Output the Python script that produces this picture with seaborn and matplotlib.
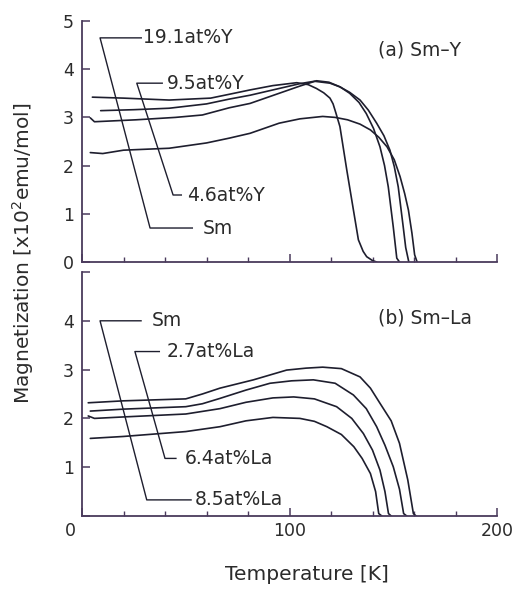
import matplotlib
matplotlib.use("Agg")
import matplotlib.pyplot as plt
import matplotlib.transforms as mtransforms
from matplotlib.ticker import MultipleLocator, FixedLocator
import seaborn as sns
import numpy as np
import pandas as pd

# ---------------- data ----------------
# (a) Sm-Y
y_sm_T = [4, 10, 20, 42, 60, 71, 81, 95, 105, 116, 122, 128, 134, 139, 143, 147, 150.5, 153.3, 155.5, 157.3, 159, 160.3, 161.5]
y_sm_M = [2.27, 2.25, 2.32, 2.36, 2.47, 2.57, 2.67, 2.88, 2.97, 3.02, 3.0, 2.95, 2.86, 2.74, 2.59, 2.39, 2.12, 1.77, 1.42, 1.08, 0.6, 0.15, 0.0]

y46_T = [4, 6, 26, 45, 58, 71, 81, 95, 105, 113, 119, 124, 129, 134, 138, 142, 145.5, 148.4, 150.5, 152.4, 154.8, 156, 157.5]
y46_M = [2.99, 2.91, 2.95, 3.0, 3.05, 3.2, 3.29, 3.5, 3.65, 3.76, 3.73, 3.64, 3.52, 3.36, 3.15, 2.88, 2.62, 2.32, 1.98, 1.56, 0.73, 0.3, 0.0]

y95_T = [9, 25, 42, 60, 71, 81, 95, 105, 112, 119.5, 124.5, 129, 133.5, 137, 140.5, 143.6, 145.8, 147.6, 150, 151.7, 153]
y95_M = [3.14, 3.16, 3.19, 3.28, 3.38, 3.46, 3.6, 3.7, 3.75, 3.71, 3.63, 3.5, 3.31, 3.08, 2.77, 2.39, 2.0, 1.56, 0.73, 0.08, 0.0]

y191_T = [5, 20, 42, 62, 71, 81, 92, 103.5, 109, 113, 116.5, 119.5, 121, 122.3, 124.3, 127.6, 130.8, 133.2, 135.5, 137.2, 140, 142]
y191_M = [3.42, 3.40, 3.36, 3.40, 3.48, 3.57, 3.66, 3.72, 3.68, 3.60, 3.51, 3.40, 3.28, 3.1, 2.81, 1.91, 1.08, 0.46, 0.22, 0.11, 0.03, 0.0]

# (b) Sm-La
la_sm_T = [3, 20, 50, 58, 66.5, 82.6, 98.6, 108, 116, 125, 134, 139, 143.6, 149, 153, 157, 159.7, 161]
la_sm_M = [2.32, 2.36, 2.40, 2.5, 2.62, 2.79, 2.99, 3.03, 3.05, 3.02, 2.85, 2.62, 2.31, 1.95, 1.49, 0.74, 0.05, 0.0]

la27_T = [4, 20, 50, 58, 66.5, 79, 90.6, 101, 111.5, 122, 130.8, 137, 142, 146, 150, 153, 155, 156.5]
la27_M = [2.15, 2.19, 2.24, 2.3, 2.41, 2.58, 2.72, 2.77, 2.79, 2.72, 2.48, 2.2, 1.83, 1.45, 1.01, 0.55, 0.05, 0.0]

la64_T = [3, 6, 20, 50, 66.5, 79, 92, 102, 112, 122.7, 130, 135.6, 140, 143.6, 146, 147.7, 149]
la64_M = [2.05, 2.0, 2.03, 2.09, 2.2, 2.33, 2.42, 2.44, 2.4, 2.24, 2.0, 1.69, 1.35, 0.94, 0.5, 0.05, 0.0]

la85_T = [4, 20, 50, 66.5, 79, 92, 105, 112, 118, 125, 131, 135, 139, 141.5, 143, 144.5]
la85_M = [1.59, 1.63, 1.73, 1.83, 1.95, 2.02, 2.0, 1.94, 1.83, 1.67, 1.42, 1.18, 0.87, 0.5, 0.05, 0.0]

x_ticks = [0, 100, 200]
x_ticklabels = ["0", "100", "200"]
y_ticks = [0, 1, 2, 3, 4, 5]
y_ticklabels_a = ["0", "1", "2", "3", "4", "5"]
y_ticklabels_b = ["", "1", "2", "3", "4", ""]

# ---------------- style ----------------
sns.set_theme(style="white")
plt.rcParams['font.family'] = ['DejaVu Sans']
LINE = "#1e1e2e"
SPINE = "#4a3a5c"
TEXT = "#2b2b2b"
FS_TICK = 12.5
FS_ANN = 13.5
FS_LAB = 14.5

W, H = 517, 589
fig = plt.figure(figsize=(W / 100, H / 100), dpi=100)
ax1 = fig.add_axes([82 / W, 1 - 262 / H, 415 / W, 241 / H])
ax2 = fig.add_axes([82 / W, 1 - 516 / H, 415 / W, 244 / H])


def draw(ax, T, M):
    sns.lineplot(x=T, y=M, ax=ax, color=LINE, lw=1.2, sort=False, estimator=None)


for T, M in [(y_sm_T, y_sm_M), (y46_T, y46_M), (y95_T, y95_M), (y191_T, y191_M)]:
    draw(ax1, T, M)
for T, M in [(la_sm_T, la_sm_M), (la27_T, la27_M), (la64_T, la64_M), (la85_T, la85_M)]:
    draw(ax2, T, M)

for ax in (ax1, ax2):
    ax.set_xlim(0, 200)
    ax.set_ylim(0, 5)
    ax.set_xlabel("")
    ax.set_ylabel("")
    for s in ("top", "right"):
        ax.spines[s].set_visible(False)
    for s in ("left", "bottom"):
        ax.spines[s].set_color(SPINE)
        ax.spines[s].set_linewidth(1.3)
    ax.xaxis.set_major_locator(FixedLocator(x_ticks))
    ax.xaxis.set_minor_locator(MultipleLocator(20))
    ax.yaxis.set_major_locator(FixedLocator(y_ticks))
    ax.tick_params(axis="both", which="both", bottom=True, left=True, top=False, right=False)
    ax.tick_params(axis="both", which="major", direction="in", length=6, width=1.1,
                   color=SPINE, labelsize=FS_TICK, labelcolor=TEXT)
    ax.tick_params(axis="x", which="minor", direction="in", length=3.5, width=1.0, color=SPINE)
    ax.tick_params(axis="y", which="major", pad=6)
    ax.tick_params(axis="x", which="major", pad=4)
    ax.set_facecolor("white")

ax1.set_yticklabels(y_ticklabels_a)
ax1.set_xticklabels([])
ax2.set_yticklabels(y_ticklabels_b)
ax2.set_xticklabels(x_ticklabels)
# the "0" of the temperature axis sits a little left of the origin
lab0 = ax2.get_xticklabels()[0]
lab0.set_transform(lab0.get_transform() + mtransforms.ScaledTranslation(-12 / 100, 0, fig.dpi_scale_trans))

lk = dict(color=LINE, lw=1.0, solid_capstyle="butt", clip_on=False)
tk = dict(fontsize=FS_ANN, color=TEXT, va="center", ha="left")

# (a) annotations
ax1.plot([28.9, 8.7, 32.8, 53.5], [4.65, 4.65, 0.705, 0.705], **lk)
ax1.text(29.5, 4.65, "19.1at%Y", **tk)
ax1.text(58.3, 0.705, "Sm", **tk)
ax1.plot([39.0, 26.4, 43.9, 48.2], [3.71, 3.71, 1.39, 1.39], **lk)
ax1.text(41.0, 3.71, "9.5at%Y", **tk)
ax1.text(50.6, 1.39, "4.6at%Y", **tk)
ax1.text(142.7, 4.4, "(a) Sm–Y", **tk)

# (b) annotations
ax2.plot([28.8, 8.7, 31.2, 52.9], [4.0, 4.0, 0.33, 0.33], **lk)
ax2.text(33.6, 4.0, "Sm", **tk)
ax2.text(54.5, 0.33, "8.5at%La", **tk)
ax2.plot([37.6, 25.5, 40.0, 45.6], [3.37, 3.37, 1.18, 1.18], **lk)
ax2.text(41.0, 3.37, "2.7at%La", **tk)
ax2.text(49.6, 1.18, "6.4at%La", **tk)
ax2.text(142.7, 4.05, "(b) Sm–La", **tk)

fig.text(23 / W, 1 - 253 / H, "Magnetization [x10$^2$emu/mol]", rotation=90,
         ha="center", va="center", fontsize=FS_LAB, color=TEXT)
fig.text(307 / W, 1 - 575 / H, "Temperature [K]", ha="center", va="center",
         fontsize=FS_LAB, color=TEXT)

fig.savefig("out.png", dpi=100, facecolor="white")
